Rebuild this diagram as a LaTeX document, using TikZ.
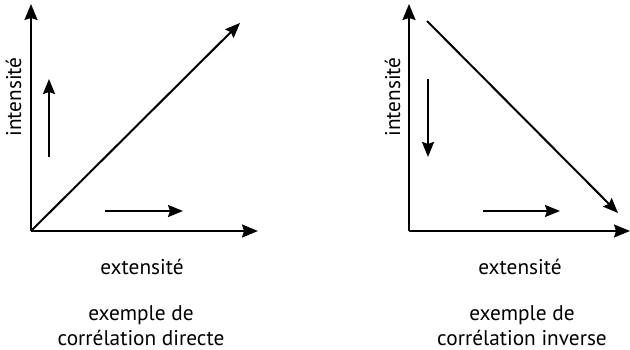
\documentclass[tikz,border=0pt]{standalone}
\usepackage{fontspec}
\setmainfont{PT Sans}
\usetikzlibrary{arrows.meta}
\tikzset{
  axis/.style={line width=2pt,-{Stealth[length=16pt,width=13pt,inset=2pt]}},
  trend/.style={line width=2pt,-{Stealth[length=15pt,width=12pt,inset=2pt]}},
  lbl/.style={font=\fontsize{21.3}{25}\selectfont,inner sep=0pt,anchor=base},
}
\begin{document}
\begin{tikzpicture}[x=1pt,y=-1pt]
\useasboundingbox (0,0) rectangle (630,350);
% left chart
\coordinate (o1) at (31,231);
\coordinate (y1) at (31,4);
\coordinate (x1) at (258,231);
\coordinate (d1e) at (240,23);
\coordinate (v1s) at (49,157);
\coordinate (v1e) at (49,79);
\coordinate (h1s) at (105,211);
\coordinate (h1e) at (183,211);
\draw[axis] (o1) -- (y1);
\draw[axis] (o1) -- (x1);
\draw[trend] (o1) -- (d1e);
\draw[trend] (v1s) -- (v1e);
\draw[trend] (h1s) -- (h1e);
\node[lbl,rotate=90] (i1) at (21,97) {intensité};
\node[lbl] (e1) at (142,275) {extensité};
\node[lbl] (c1a) at (141,320) {exemple de};
\node[lbl] (c1b) at (141,345) {corrélation directe};
% right chart
\coordinate (o2) at (409,231);
\coordinate (y2) at (409,4);
\coordinate (x2) at (630,231);
\coordinate (d2s) at (427,21);
\coordinate (d2e) at (618,213);
\coordinate (v2s) at (428,79);
\coordinate (v2e) at (428,157);
\coordinate (h2s) at (483,211);
\coordinate (h2e) at (560,211);
\draw[axis] (o2) -- (y2);
\draw[axis] (o2) -- (x2);
\draw[trend] (d2s) -- (d2e);
\draw[trend] (v2s) -- (v2e);
\draw[trend] (h2s) -- (h2e);
\node[lbl,rotate=90] (i2) at (400,97) {intensité};
\node[lbl] (e2) at (520,275) {extensité};
\node[lbl] (c2a) at (522,320) {exemple de};
\node[lbl] (c2b) at (522,345) {corrélation inverse};
\end{tikzpicture}
\end{document}
